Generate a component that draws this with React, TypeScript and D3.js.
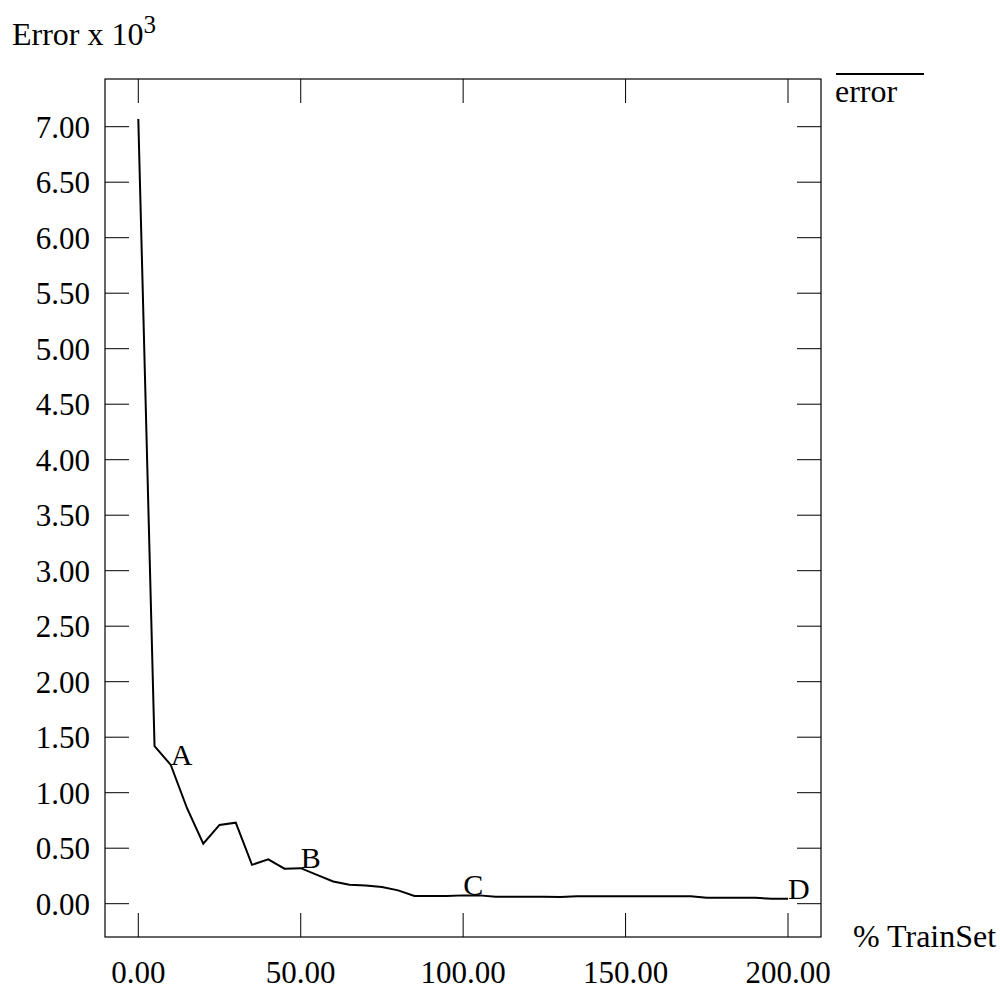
import React from "react";
import * as d3 from "d3";

const xTicks = [0, 50, 100, 150, 200];
const yTicks = [0, 0.5, 1, 1.5, 2, 2.5, 3, 3.5, 4, 4.5, 5, 5.5, 6, 6.5, 7];
const trainPct = [0, 5, 10, 15, 20, 25, 30, 35, 40, 45, 50, 55, 60, 65, 70, 75, 80, 85, 90, 95, 100, 105, 110, 115, 120, 125, 130, 135, 140, 145, 150, 155, 160, 165, 170, 175, 180, 185, 190, 195, 200];
const errorVals = [7.07, 1.42, 1.25, 0.86, 0.54, 0.71, 0.73, 0.35, 0.4, 0.315, 0.32, 0.26, 0.2, 0.17, 0.165, 0.15, 0.12, 0.07, 0.07, 0.07, 0.075, 0.075, 0.063, 0.063, 0.062, 0.062, 0.06, 0.068, 0.068, 0.068, 0.068, 0.068, 0.068, 0.068, 0.068, 0.053, 0.053, 0.053, 0.053, 0.045, 0.045];
const markLabels = [
  { text: "A", x: 10, y: 1.25 },
  { text: "B", x: 50, y: 0.32 },
  { text: "C", x: 100, y: 0.075 },
  { text: "D", x: 200, y: 0.045 },
];

export default function App() {
  const W = 1000, H = 988;
  const left = 105, right = 821, top = 79, bottom = 937;
  const x = d3.scaleLinear().domain([0, 200]).range([138.3, 788]);
  const y = d3.scaleLinear().domain([0, 7]).range([903.7, 126.7]);
  const line = d3.line<number>().x((_, i) => x(trainPct[i])).y((d) => y(d));
  const font = "'Liberation Serif', 'Times New Roman', serif";
  const tl = 24;
  const fs = 31;
  return (
    <svg width={W} height={H} style={{ position: "absolute", left: 0, top: 0 }} fontFamily={font}>
      <rect x={0} y={0} width={W} height={H} fill="#fff" />
      <text x={12} y={45} fontSize={32}>
        Error x 10<tspan dy={-12} fontSize={25}>3</tspan>
      </text>
      <rect x={left} y={top} width={right - left} height={bottom - top} fill="none" stroke="#000" strokeWidth={1.2} />
      {yTicks.map((t) => (
        <g key={"y" + t}>
          <line x1={left} x2={left + tl} y1={y(t)} y2={y(t)} stroke="#000" strokeWidth={1} />
          <line x1={right - tl} x2={right} y1={y(t)} y2={y(t)} stroke="#000" strokeWidth={1} />
          <text x={90} y={y(t) + 11} textAnchor="end" fontSize={fs}>{t.toFixed(2)}</text>
        </g>
      ))}
      {xTicks.map((t) => (
        <g key={"x" + t}>
          <line x1={x(t)} x2={x(t)} y1={bottom} y2={bottom - tl} stroke="#000" strokeWidth={1} />
          <line x1={x(t)} x2={x(t)} y1={top} y2={top + tl} stroke="#000" strokeWidth={1} />
          <text x={x(t)} y={983} textAnchor="middle" fontSize={fs}>{t.toFixed(2)}</text>
        </g>
      ))}
      <text x={853} y={947} fontSize={32}>% TrainSet</text>
      <line x1={836} x2={924} y1={74} y2={74} stroke="#000" strokeWidth={2} />
      <text x={835} y={102} fontSize={32}>error</text>
      <path d={line(errorVals) || ""} fill="none" stroke="#000" strokeWidth={2} />
      {markLabels.map((m) => (
        <text key={m.text} x={x(m.x)} y={y(m.y)} fontSize={30}>{m.text}</text>
      ))}
    </svg>
  );
}
